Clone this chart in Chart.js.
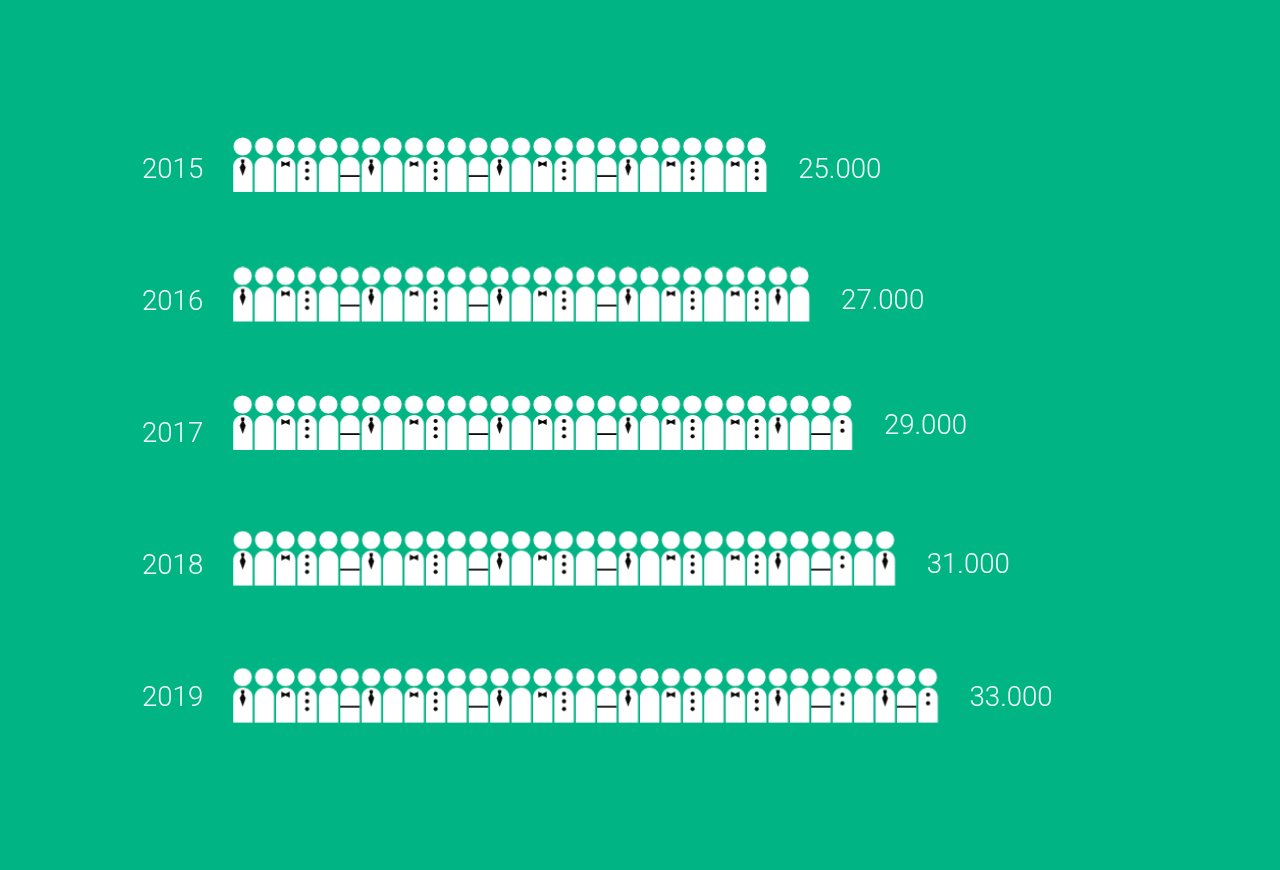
<!DOCTYPE html>
<html>
<head>
<meta charset="utf-8">
<title>2015-2019</title>
<script src="https://cdn.jsdelivr.net/npm/chart.js@4"></script>
<style>
  html, body { margin: 0; padding: 0; background: #01b483; }
  canvas { display: block; }
</style>
</head>
<body>
<canvas id="figures" width="1280" height="870"></canvas>
<script>
const years = ['2015', '2016', '2017', '2018', '2019'];
const totals = [25000, 27000, 29000, 31000, 33000];
const totalLabels = ['25.000', '27.000', '29.000', '31.000', '33.000'];
const perFigure = 1000;
// outfit of each figure, left to right, same order in every row
const outfits = [
  'tie', 'plain', 'bow', 'dots3', 'plain', 'line',
  'tie', 'plain', 'bow', 'dots3', 'plain', 'line',
  'tie', 'plain', 'bow', 'dots3', 'plain', 'line',
  'tie', 'plain', 'bow', 'dots3', 'plain', 'bow', 'dots3',
  'tie', 'plain', 'line', 'dots2', 'plain', 'tie', 'line', 'dots2'
];

// rows in the picture are not evenly spaced, small pixel corrections
const rowNudge = [-6.5, -8.75, -12, -8.25, -3];
const labelNudge = [-0.5, -1.25, -8, -0.75, 0.5];

const white = '#ffffff';
const black = '#0a0a0a';
const textColor = '#f4fbf9';
const textFont = '300 27.6px Roboto';

function makeSprite(outfit) {
  const c = document.createElement('canvas');
  c.width = 22;
  c.height = 56;
  const g = c.getContext('2d');
  g.fillStyle = white;
  // head
  g.beginPath();
  g.arc(10.5, 9.5, 9.1, 0, Math.PI * 2);
  g.fill();
  // body
  g.beginPath();
  g.moveTo(1, 55);
  g.lineTo(1, 29.5);
  g.bezierCurveTo(1, 24, 5.5, 20, 10.7, 20);
  g.bezierCurveTo(15.9, 20, 20.4, 24, 20.4, 29.5);
  g.lineTo(20.4, 55);
  g.closePath();
  g.fill();

  g.fillStyle = black;
  if (outfit === 'tie') {
    g.beginPath();
    g.moveTo(8.8, 22.5);
    g.lineTo(12.2, 22.5);
    g.lineTo(12.2, 25);
    g.lineTo(11.3, 26.5);
    g.lineTo(13.5, 30.5);
    g.lineTo(10.5, 39);
    g.lineTo(7.5, 30.5);
    g.lineTo(9.7, 26.5);
    g.lineTo(8.8, 25);
    g.closePath();
    g.fill();
  } else if (outfit === 'bow') {
    g.beginPath();
    g.moveTo(6.3, 24);
    g.lineTo(10.5, 26);
    g.lineTo(14.7, 24);
    g.lineTo(14.7, 30);
    g.lineTo(10.5, 28);
    g.lineTo(6.3, 30);
    g.closePath();
    g.fill();
  } else if (outfit === 'dots3' || outfit === 'dots2') {
    const ys = outfit === 'dots3' ? [26, 33.7, 41.3] : [27, 35.7];
    ys.forEach(y => {
      g.beginPath();
      g.arc(10.7, y, 2.1, 0, Math.PI * 2);
      g.fill();
    });
  } else if (outfit === 'line') {
    g.fillRect(1, 38.2, 19.4, 1.8);
  }
  return c;
}

const sprites = {};
outfits.forEach(o => {
  if (!sprites[o]) sprites[o] = makeSprite(o);
});

const datasets = years.map((year, r) => {
  const n = totals[r] / perFigure;
  const points = [];
  for (let i = 0; i < n; i++) {
    points.push({ x: (i + 0.5) * perFigure, y: year });
  }
  return {
    label: year,
    data: points,
    pointRadius: 10,
    pointHoverRadius: 10,
    pointStyle: ctx => sprites[outfits[ctx.dataIndex]],
    showLine: false,
    clip: false
  };
});

const rowNudgePlugin = {
  id: 'rowNudge',
  afterDatasetsUpdate(chart) {
    chart.data.datasets.forEach((ds, r) => {
      chart.getDatasetMeta(r).data.forEach(pt => {
        pt.y += rowNudge[r];
      });
    });
  }
};

const totalLabelPlugin = {
  id: 'totalLabels',
  afterDatasetsDraw(chart) {
    const ctx = chart.ctx;
    ctx.save();
    ctx.font = textFont;
    ctx.fillStyle = textColor;
    ctx.textAlign = 'left';
    ctx.textBaseline = 'middle';
    totals.forEach((v, r) => {
      const x = chart.scales.x.getPixelForValue(v) + 30.5;
      const y = chart.scales.y.getPixelForValue(r) + labelNudge[r];
      ctx.fillText(totalLabels[r], x, y);
    });
    ctx.restore();
  }
};

new Chart(document.getElementById('figures'), {
  type: 'scatter',
  data: { datasets: datasets },
  plugins: [rowNudgePlugin, totalLabelPlugin],
  options: {
    responsive: false,
    animation: false,
    events: [],
    layout: { padding: { left: 142, right: 191.1, top: 105.5, bottom: 105.5 } },
    plugins: { legend: { display: false }, tooltip: { enabled: false } },
    scales: {
      x: { type: 'linear', display: false, min: 0, max: 40000 },
      y: {
        type: 'category',
        labels: years,
        offset: true,
        grid: { display: false },
        border: { display: false },
        afterFit(scale) { scale.width = 90.5; },
        ticks: {
          color: textColor,
          font: { family: 'Roboto', size: 27.6, weight: '300' },
          crossAlign: 'far',
          padding: 0
        }
      }
    }
  }
});
</script>
</body>
</html>
